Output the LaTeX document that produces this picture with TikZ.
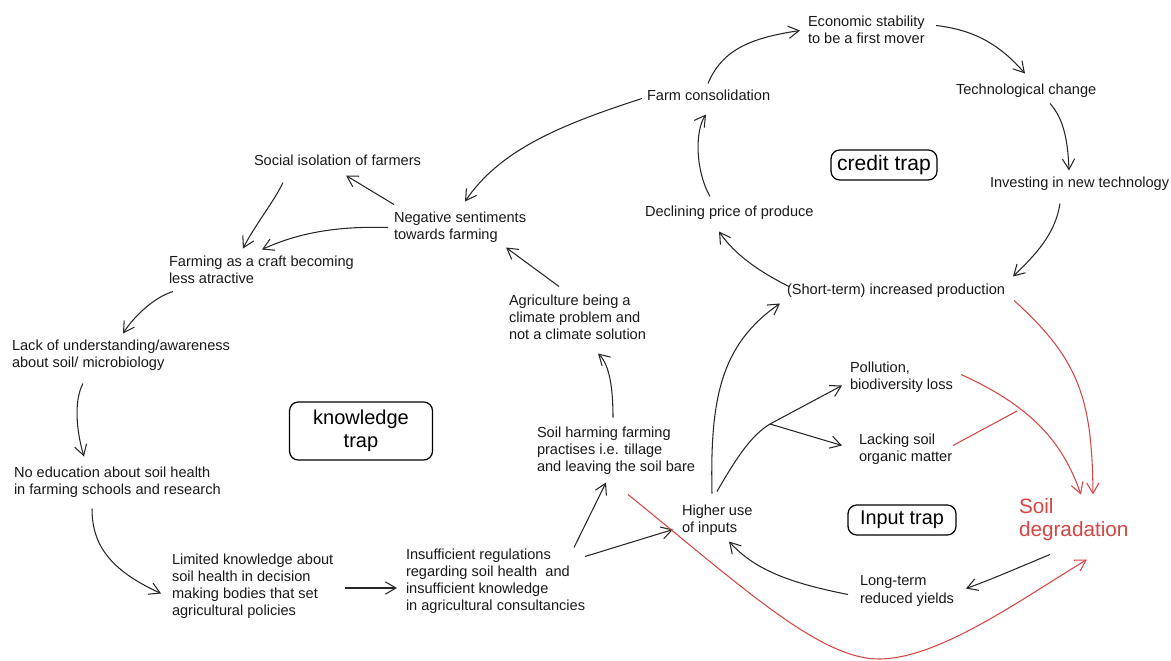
\documentclass[tikz,border=0pt]{standalone}
\usepackage{fontspec}
\setmainfont{Liberation Sans}
\usetikzlibrary{arrows.meta}
\definecolor{soilred}{RGB}{214,69,65}
\begin{document}
\begin{tikzpicture}[x=0.02cm,y=-0.02cm,
  lbl/.style={anchor=west,align=left,inner sep=0pt,outer sep=0pt,yshift=-0.03cm,font=\fontsize{8.3}{9.7}\selectfont,text=black!90},
  trapbox/.style={draw,rounded corners=5pt,line width=0.7pt,align=center,inner sep=0pt},
  arr/.style={line width=0.6pt,draw=black!85,-{Straight Barb[length=6pt,width=7pt]}},
  redarr/.style={line width=0.6pt,draw=soilred,-{Straight Barb[length=6pt,width=7pt]}},
  redln/.style={line width=0.6pt,draw=soilred}]
\useasboundingbox (0,0) rectangle (1171,660);

% nodes
\node[lbl] (econ) at (808,28.5) {Economic stability\\to be a first mover};
\node[lbl] (farmc) at (647,94) {Farm consolidation};
\node[lbl] (tech) at (956,89) {Technological change};
\node[trapbox,minimum width=2.12cm,minimum height=0.6cm,font=\fontsize{12}{14}\selectfont] (credit) at (884,165) {credit trap};
\node[lbl] (invest) at (990,182) {Investing in new technology};
\node[lbl] (decl) at (645,211) {Declining price of produce};
\node[lbl] (short) at (787,289) {(Short-term) increased production};
\node[lbl] (social) at (254,159) {Social isolation of farmers};
\node[lbl] (negs) at (394,225.5) {Negative sentiments\\towards farming};
\node[lbl] (craft) at (169,268.5) {Farming as a craft becoming\\less atractive};
\node[lbl] (agri) at (509,316) {Agriculture being a\\climate problem and\\not a climate solution};
\node[lbl] (lack) at (12,353.5) {Lack of understanding/awareness\\about soil/ microbiology};
\node[trapbox,minimum width=2.86cm,minimum height=1.16cm,font=\fontsize{11.4}{13}\selectfont] (know) at (361,431) {knowledge\\trap};
\node[lbl] (soilharm) at (537,449) {Soil harming farming\\practises i.e. tillage\\and leaving the soil bare};
\node[lbl] (pollution) at (850,375.5) {Pollution,\\biodiversity loss};
\node[lbl] (lacking) at (859,447.5) {Lacking soil\\organic matter};
\node[lbl] (noedu) at (14,481) {No education about soil health\\in farming schools and research};
\node[lbl] (higher) at (682,518.5) {Higher use\\of inputs};
\node[trapbox,minimum width=2.16cm,minimum height=0.6cm,font=\fontsize{11.3}{13}\selectfont] (input) at (902,520) {Input trap};
\node[lbl,font=\fontsize{11.8}{13}\selectfont,text=soilred] (soildeg) at (1019,518.5) {Soil\\degradation};
\node[lbl] (longterm) at (860,589.5) {Long-term\\reduced yields};
\node[lbl] (limited) at (172,585) {Limited knowledge about\\soil health in decision\\making bodies that set\\agricultural policies};
\node[lbl] (insuff) at (406,580) {Insufficient regulations\\regarding soil health\ \ and\\insufficient knowledge\\in agricultural consultancies};

% credit trap loop
\draw[arr] ([shift={(61,-12)}]farmc.west) .. controls (722,50) and (750,38) .. ([shift={(-8,0.5)}]econ.west);
\draw[arr] ([shift={(128,-4.5)}]econ.west) .. controls (975,30) and (1000,45) .. ([shift={(69,-17)}]tech.west);
\draw[arr] ([shift={(94,13)}]tech.west) .. controls (1065,120) and (1068,145) .. ([shift={(79,-13)}]invest.west);
\draw[arr] ([shift={(70,20)}]invest.west) .. controls (1055,235) and (1035,255) .. ([shift={(226,-14)}]short.west);
\draw[arr] ([shift={(2,-4)}]short.west) .. controls (760,272) and (735,255) .. ([shift={(74,19)}]decl.west);
\draw[arr] ([shift={(65,-16)}]decl.west) .. controls (695,170) and (695,130) .. ([shift={(59,19)}]farmc.west);

% knowledge trap loop
\draw[arr] ([shift={(-5,3)}]farmc.west) .. controls (560,125) and (500,150) .. ([shift={(71,-25.5)}]negs.west);
\draw[arr] ([shift={(0,-22.5)}]negs.west) -- ([shift={(92,15)}]social.west);
\draw[arr] ([shift={(-6,0.5)}]negs.west) .. controls (340,226) and (300,232) .. ([shift={(93,-20.5)}]craft.west);
\draw[arr] ([shift={(29,22)}]social.west) .. controls (275,200) and (255,225) .. ([shift={(74,-21.5)}]craft.west);
\draw[arr] ([shift={(4,21.5)}]craft.west) .. controls (155,297) and (135,315) .. ([shift={(111,-21.5)}]lack.west);
\draw[arr] ([shift={(71,28.5)}]lack.west) .. controls (74,400) and (76,430) .. ([shift={(70,-26)}]noedu.west);
\draw[arr] ([shift={(78,26)}]noedu.west) .. controls (92,545) and (110,570) .. ([shift={(-11,7)}]limited.west);
\draw[arr] ([shift={(173,1.5)}]limited.west) -- ([shift={(-9,6.5)}]insuff.west);
\draw[arr] ([shift={(168,-34)}]insuff.west) -- ([shift={(69,32)}]soilharm.west);
\draw[arr] ([shift={(179,-25)}]insuff.west) -- ([shift={(-9,9.5)}]higher.west);
\draw[arr] ([shift={(76,-33)}]soilharm.west) .. controls (613,390) and (610,365) .. ([shift={(89,36)}]agri.west);
\draw[arr] ([shift={(50,-31)}]agri.west) -- ([shift={(112,20.5)}]negs.west);

% input trap loop
\coordinate (branch) at (770,424);
\draw[arr] ([shift={(30,-26.5)}]higher.west) .. controls (710,400) and (720,345) .. ([shift={(-7,13)}]short.west);
\draw[arr] ([shift={(35,-28.5)}]higher.west) .. controls (738,455) and (752,435) .. (branch) -- ([shift={(-8,8.5)}]pollution.west);
\draw[arr] (branch) -- ([shift={(-17,-3.5)}]lacking.west);
\draw[arr] ([shift={(-12,3.5)}]longterm.west) .. controls (790,583) and (755,570) .. ([shift={(47,21.5)}]higher.west);
\draw[arr] ([shift={(31,34.5)}]soildeg.west) .. controls (1020,567) and (990,580) .. ([shift={(106,-2.5)}]longterm.west);

% red links to soil degradation
\coordinate (merge) at (1017,411);
\draw[redarr] ([shift={(227,10)}]short.west) .. controls (1080,360) and (1092,400) .. ([shift={(74,-25.5)}]soildeg.west);
\draw[redarr] ([shift={(111,-2.5)}]pollution.west) .. controls (1040,410) and (1065,450) .. ([shift={(62,-25.5)}]soildeg.west);
\draw[redln] ([shift={(94,-3.5)}]lacking.west) -- (merge);
\draw[redarr] ([shift={(91,44)}]soilharm.west) .. controls (740,585) and (820,660) .. (880,659) .. controls (940,658) and (1020,600) .. ([shift={(68,39.5)}]soildeg.west);
\end{tikzpicture}
\end{document}
